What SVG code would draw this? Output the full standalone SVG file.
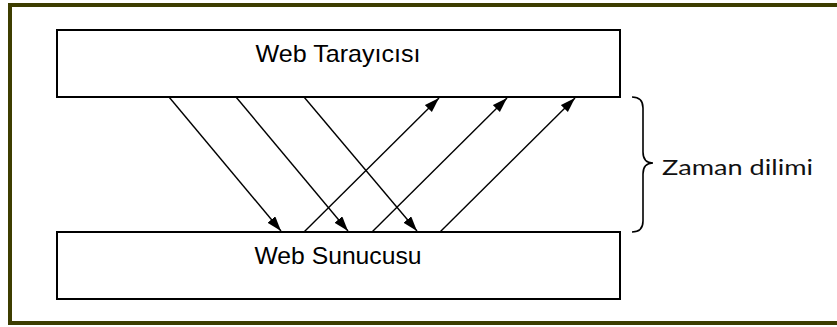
<svg xmlns="http://www.w3.org/2000/svg" width="837" height="327" viewBox="0 0 837 327">
  <style>
    .box { fill: #ffffff; stroke: #000000; stroke-width: 2; }
    .label { font-family: "Liberation Sans", Arial, sans-serif; font-size: 24px; fill: #000000; }
    .note { font-family: Lato, "Open Sans", sans-serif; font-size: 22px; fill: #111111; }
    .msg { stroke: #000000; stroke-width: 1.4; fill: none; marker-end: url(#head); }
    .brace { stroke: #000000; stroke-width: 1.6; fill: none; }
  </style>
  <defs>
    <marker id="head" markerUnits="userSpaceOnUse" markerWidth="16" markerHeight="11" refX="15" refY="5" orient="auto">
      <path d="M0,0 L15,5 L0,10 Z" fill="#000000"/>
    </marker>
  </defs>

  <rect x="0" y="0" width="837" height="327" fill="#ffffff"/>

  <!-- outer frame -->
  <rect x="10" y="5" width="832" height="318" fill="none" stroke="#3d3d00" stroke-width="4"/>

  <g id="browser">
    <rect class="box" x="57" y="30" width="563" height="67"/>
    <text class="label" x="338" y="62" text-anchor="middle" textLength="165" lengthAdjust="spacingAndGlyphs">Web Tarayıcısı</text>
  </g>

  <g id="server">
    <rect class="box" x="57" y="232" width="563" height="67"/>
    <text class="label" x="338" y="264" text-anchor="middle" textLength="167" lengthAdjust="spacingAndGlyphs">Web Sunucusu</text>
  </g>

  <g id="connectors">
    <!-- requests -->
    <line class="msg" x1="169" y1="97" x2="281" y2="231"/>
    <line class="msg" x1="236" y1="97" x2="348" y2="231"/>
    <line class="msg" x1="304" y1="97" x2="417" y2="231"/>
    <!-- responses -->
    <line class="msg" x1="304" y1="232" x2="439" y2="98"/>
    <line class="msg" x1="372" y1="232" x2="507" y2="98"/>
    <line class="msg" x1="440" y1="232" x2="575" y2="98"/>
  </g>

  <g id="timespan">
    <path class="brace" d="M632,97 Q643,97 643,108 L643,152 Q643,163 653,163 Q643,163 643,174 L643,221 Q643,232 632,232"/>
    <text class="note" x="662" y="175" textLength="151" lengthAdjust="spacingAndGlyphs">Zaman dilimi</text>
  </g>
</svg>
